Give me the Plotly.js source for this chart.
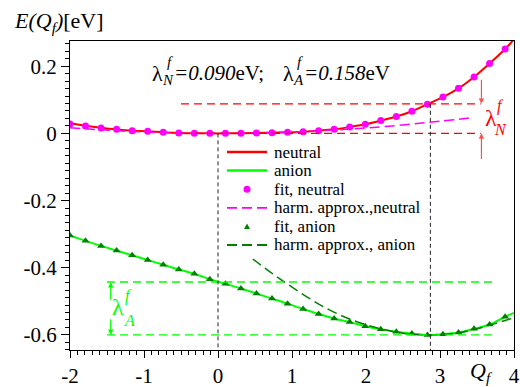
<!DOCTYPE html>
<html>
<head>
<meta charset="utf-8">
<script src="https://cdn.plot.ly/plotly-3.0.1.min.js"></script>
<style>html,body{margin:0;padding:0;background:#fff;}#chart{width:520px;height:387px;}</style>
</head>
<body>
<div id="chart"></div>
<script>
// ---- data ----
const qFit = [-2,-1.79,-1.58,-1.37,-1.16,-0.95,-0.74,-0.53,-0.32,-0.11,0.10,0.31,0.52,0.73,0.94,1.15,1.36,1.57,1.78,1.99,2.20,2.41,2.62,2.83,3.04,3.25,3.46,3.67,3.88];
const neutralFit = [0.028,0.022,0.016,0.012,0.008,0.006,0.003,0.001,0.0003,0,0,0.0003,0.001,0.002,0.003,0.005,0.008,0.012,0.019,0.027,0.038,0.050,0.066,0.087,0.108,0.134,0.168,0.208,0.251];
const anionFit = [-0.304,-0.320,-0.335,-0.349,-0.363,-0.377,-0.391,-0.405,-0.418,-0.434,-0.448,-0.462,-0.477,-0.492,-0.507,-0.523,-0.538,-0.551,-0.562,-0.574,-0.583,-0.591,-0.596,-0.600,-0.598,-0.593,-0.582,-0.569,-0.546];
const qCurve = [-2,-1.79,-1.58,-1.37,-1.16,-0.95,-0.74,-0.53,-0.32,-0.11,0.10,0.31,0.52,0.73,0.94,1.15,1.36,1.57,1.78,1.99,2.20,2.41,2.62,2.83,3.04,3.25,3.46,3.67,3.88,4];
const neutralCurve = [0.030,0.023,0.017,0.012,0.008,0.006,0.003,0.001,0.0003,0,0,0.0003,0.001,0.002,0.003,0.005,0.008,0.012,0.019,0.027,0.038,0.050,0.066,0.087,0.108,0.134,0.168,0.208,0.251,0.280];
const anionCurve = [-0.304,-0.320,-0.335,-0.349,-0.363,-0.377,-0.391,-0.405,-0.418,-0.434,-0.448,-0.462,-0.477,-0.492,-0.507,-0.523,-0.538,-0.551,-0.562,-0.574,-0.583,-0.591,-0.596,-0.600,-0.598,-0.593,-0.582,-0.569,-0.546,-0.535];
const qHarmN = [-2,-1,0,1,2,3,3.45];
const harmNeutral = [0.0165,0.004,0,0.004,0.016,0.036,0.047];
const qHarmA = [0.47,0.9,1.5,2,2.5,2.85,3.3,3.88,4];
const harmAnion = [-0.374,-0.443,-0.525,-0.570,-0.595,-0.600,-0.592,-0.557,-0.548];
const xTickVals = [-2,-1,0,1,2,3,4];
const xTickText = ['-2','-1','0','1','2','3','4'];
const yTickVals = [-0.6,-0.4,-0.2,0,0.2];
const yTickText = ['-0.6','-0.4','-0.2','0','0.2'];
const legendLabels = ['neutral','anion','fit, neutral','harm. approx.,neutral','fit, anion','harm. approx., anion'];
const Qf = 2.87;
const lamNtop = 0.088, lamNbot = 0;
const lamAtop = -0.4425, lamAbot = -0.600;

// ---- colours ----
const RED='#ff0000', GREEN='#00ff00', MAG='#ff00ff', DKG='#008000';
const SERIF="'Liberation Serif', 'Times New Roman', serif";

// ---- pixel helpers for layout (plot area 70..514 x 41..350) ----
const PL=70, PT=41, PW=444, PH=309;
const px = x => (x-PL)/PW;
const py = y => (PT+PH-y)/PH;

const traces = [
  {x:qCurve, y:neutralCurve, mode:'lines', name:legendLabels[0], line:{color:RED,width:2,shape:'spline'}},
  {x:qCurve, y:anionCurve, mode:'lines', name:legendLabels[1], line:{color:GREEN,width:2,shape:'spline'}},
  {x:qHarmN, y:harmNeutral, mode:'lines', name:legendLabels[3], line:{color:MAG,width:1.5,dash:'10px,5px',shape:'spline'}},
  {x:qHarmA, y:harmAnion, mode:'lines', name:legendLabels[5], line:{color:DKG,width:1.5,dash:'10px,5px',shape:'spline'}},
  {x:qFit, y:neutralFit, mode:'markers', name:legendLabels[2], marker:{color:MAG,size:7,symbol:'circle'}},
  {x:qFit, y:anionFit, mode:'markers', name:legendLabels[4], marker:{color:DKG,size:7,symbol:'triangle-up'}}
];

const shapes = [
  // guide lines
  {type:'line', xref:'x', yref:'y', x0:-0.5, x1:3.55, y0:lamNtop, y1:lamNtop, line:{color:RED,width:1.3,dash:'8px,5px'}},
  {type:'line', xref:'x', yref:'y', x0:-0.5, x1:3.55, y0:lamNbot, y1:lamNbot, line:{color:RED,width:1.3,dash:'8px,5px'}},
  {type:'line', xref:'x', yref:'y', x0:-1.5, x1:3.77, y0:lamAtop, y1:lamAtop, line:{color:GREEN,width:1.3,dash:'8px,5px'}},
  {type:'line', xref:'x', yref:'y', x0:-1.5, x1:3.77, y0:lamAbot, y1:lamAbot, line:{color:GREEN,width:1.3,dash:'8px,5px'}},
  {type:'line', xref:'x', yref:'y', x0:0, x1:0, y0:0, y1:-0.645, line:{color:'#222',width:1,dash:'4px,3px'}},
  {type:'line', xref:'x', yref:'y', x0:Qf, x1:Qf, y0:lamNtop, y1:-0.645, line:{color:'#222',width:1,dash:'4px,3px'}}
];

// manual legend
const legRowY = [152, 170.6, 189.2, 207.8, 226.4, 245];
const legLineX0 = 227, legLineX1 = 267, legTextX = 271.5, legMarkX = 247;
const legLineStyle = [
  {color:RED,width:2.5}, {color:GREEN,width:2.5}, null,
  {color:MAG,width:1.8,dash:'10px,5px'}, null, {color:DKG,width:1.8,dash:'10px,5px'}
];
legLineStyle.forEach((ls,i)=>{
  if(ls) shapes.push({type:'line', xref:'paper', yref:'paper', x0:px(legLineX0), x1:px(legLineX1), y0:py(legRowY[i]), y1:py(legRowY[i]), line:ls});
});
shapes.push({type:'circle', xref:'paper', yref:'paper', xsizemode:'pixel', ysizemode:'pixel', xanchor:px(legMarkX), yanchor:py(legRowY[2]), x0:-3.5,x1:3.5,y0:-3.5,y1:3.5, fillcolor:MAG, line:{width:0}});
shapes.push({type:'path', xref:'paper', yref:'paper', xsizemode:'pixel', ysizemode:'pixel', xanchor:px(legMarkX), yanchor:py(legRowY[4]), path:'M0,3 L-3,-2.5 L3,-2.5 Z', fillcolor:DKG, line:{width:0}});

const annotations = [];
const txt = (x,y,text,size,color,anchor) => annotations.push({xref:'paper',yref:'paper',x:px(x),y:py(y),text:text,showarrow:false,xanchor:anchor||'center',yanchor:'middle',font:{family:SERIF,size:size,color:color||'#000'}});
legendLabels.forEach((t,i)=>txt(legTextX, legRowY[i], t, 17, '#000', 'left'));

// titles
txt(12, 22, '<i>E(Q</i><sub><i>f</i></sub><i>)</i>[eV]', 22, '#000', 'left');
txt(468, 372, '<i>Q</i><sub><i>f</i></sub>', 22, '#000', 'left');
// central lambda text
txt(157.5, 73, 'λ', 22);
txt(169.5, 62, '<i>f</i>', 15);
txt(167.5, 80, '<i>N</i>', 15);
txt(172, 73, '<i>=0.090</i>eV;', 21, '#000', 'left');
txt(288, 73, 'λ', 22);
txt(300, 62, '<i>f</i>', 15);
txt(298, 80, '<i>A</i>', 15);
txt(302, 73, '<i>=0.158</i>eV', 21, '#000', 'left');
// red lambda_N label
txt(491, 118, 'λ', 24, RED);
txt(500, 106, '<i>f</i>', 16, RED);
txt(500, 129, '<i>N</i>', 16, RED);
// green lambda_A label
txt(118, 307, 'λ', 24, GREEN);
txt(128, 296, '<i>f</i>', 16, GREEN);
txt(129, 320, '<i>A</i>', 16, GREEN);

// arrows
const arrow = (xh,yh,xt,yt,color) => annotations.push({xref:'x',yref:'y',axref:'x',ayref:'y',x:xh,y:yh,ax:xt,ay:yt,text:'',showarrow:true,arrowhead:2,arrowsize:0.9,arrowwidth:1.2,arrowcolor:color});
arrow(3.56, lamNtop, 3.56, 0.164, '#ff5050');
arrow(3.56, lamNbot, 3.56, -0.081, '#ff5050');
arrow(-1.45, lamAtop, -1.45, -0.500, GREEN);
arrow(-1.45, lamAbot, -1.45, -0.549, GREEN);

const axisCommon = {showgrid:false, zeroline:false, showline:true, linecolor:'#000', linewidth:1, mirror:true, ticks:'outside', tickcolor:'#000', tickwidth:1, tickfont:{family:SERIF,size:21,color:'#000'}, tickmode:'array'};

const layout = {
  width:520, height:387,
  margin:{l:70,r:6,t:41,b:37},
  paper_bgcolor:'#fff', plot_bgcolor:'#fff',
  showlegend:false,
  xaxis:Object.assign({}, axisCommon, {range:[-2,4], tickvals:xTickVals, ticktext:xTickText, ticklen:7,
    minor:{tickmode:'linear', tick0:0, dtick:0.1, ticklen:4, ticks:'outside', tickcolor:'#000', showgrid:false}}),
  yaxis:Object.assign({}, axisCommon, {range:[-0.645,0.275], tickvals:yTickVals, ticktext:yTickText, ticklen:8,
    minor:{tickmode:'linear', tick0:0, dtick:0.2/9, ticklen:4, ticks:'outside', tickcolor:'#000', showgrid:false}}),
  shapes:shapes,
  annotations:annotations
};

Plotly.newPlot('chart', traces, layout, {staticPlot:true, displayModeBar:false});
</script>
</body>
</html>
